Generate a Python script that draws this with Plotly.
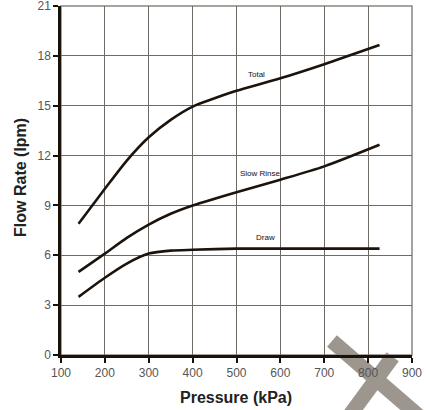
import plotly.graph_objects as go

total_x = [140, 200, 250, 300, 350, 400, 450, 500, 600, 700, 826]
total_y = [7.9, 10.0, 11.7, 13.1, 14.15, 14.95, 15.45, 15.9, 16.65, 17.5, 18.65]

rinse_x = [140, 200, 250, 300, 350, 400, 500, 600, 700, 826]
rinse_y = [5.0, 6.1, 7.05, 7.85, 8.5, 9.0, 9.8, 10.55, 11.35, 12.65]

draw_x = [140, 200, 250, 300, 350, 400, 500, 600, 700, 826]
draw_y = [3.5, 4.65, 5.5, 6.1, 6.28, 6.33, 6.4, 6.4, 6.4, 6.4]

labels = ["Total", "Slow Rinse", "Draw"]
label_x = [545, 555, 565]
label_y = [16.85, 10.95, 7.05]

x_ticks = list(range(100, 1000, 100))
y_ticks = list(range(0, 22, 3))

x_title = "Pressure (kPa)"
y_title = "Flow Rate (lpm)"

line_color = "#1c140c"
fig = go.Figure()
for xs, ys in [(total_x, total_y), (rinse_x, rinse_y), (draw_x, draw_y)]:
    fig.add_trace(go.Scatter(x=xs, y=ys, mode="lines",
                             line=dict(color=line_color, width=2.6, shape="spline", smoothing=0.7),
                             showlegend=False, hoverinfo="skip"))

for t, x, y in zip(labels, label_x, label_y):
    fig.add_annotation(x=x, y=y, text=t, showarrow=False,
                       font=dict(family="Liberation Sans, Arial", size=8, color="#111"))

fig.add_annotation(xref="paper", yref="paper", x=0.4986, y=-0.123, text="<b>" + x_title + "</b>",
                   showarrow=False, xanchor="center", yanchor="middle",
                   font=dict(family="Liberation Sans, Arial", size=16, color="#222"))
fig.add_annotation(xref="paper", yref="paper", x=-0.117, y=0.51, text="<b>" + y_title + "</b>",
                   showarrow=False, xanchor="center", yanchor="middle", textangle=-90,
                   font=dict(family="Liberation Sans, Arial", size=16, color="#222"))

# watermark X
wm = "#9c968e"
fig.add_shape(type="line", xref="paper", yref="paper", x0=0.772, y0=0.04, x1=1.06, y1=-0.21,
              line=dict(color=wm, width=15), layer="below")
fig.add_shape(type="line", xref="paper", yref="paper", x0=0.945, y0=-0.005, x1=0.81, y1=-0.19,
              line=dict(color=wm, width=15), layer="below")
# gray frame
fig.add_shape(type="rect", xref="paper", yref="paper", x0=0, y0=0, x1=1, y1=1,
              line=dict(color="#8a8680", width=1.5), layer="below")

fig.update_layout(
    width=426, height=410,
    margin=dict(l=61, r=14, t=6, b=55, autoexpand=False),
    paper_bgcolor="white", plot_bgcolor="white",
    font=dict(family="Liberation Sans, Arial", size=12, color="#444"),
)
fig.update_xaxes(range=[100, 900], tickvals=x_ticks, showgrid=True, gridcolor="#6e6a64", gridwidth=1,
                 showline=True, linecolor="#1a1208", linewidth=2.5, ticks="outside", ticklen=5,
                 tickcolor="#1a1208", tickwidth=2, zeroline=False, automargin=False,
                 ticklabeloverflow="allow", tickfont=dict(size=12, color="#555"))
fig.update_yaxes(range=[0, 21], tickvals=y_ticks, showgrid=True, gridcolor="#6e6a64", gridwidth=1,
                 showline=True, linecolor="#1a1208", linewidth=2.5, ticks="outside", ticklen=5,
                 tickcolor="#1a1208", tickwidth=2, zeroline=False, automargin=False,
                 ticklabeloverflow="allow", tickfont=dict(size=12, color="#555"))

fig.write_html("out.html", config={"displayModeBar": False},
               post_script="document.body.style.margin='0';document.body.style.overflow='hidden';")
